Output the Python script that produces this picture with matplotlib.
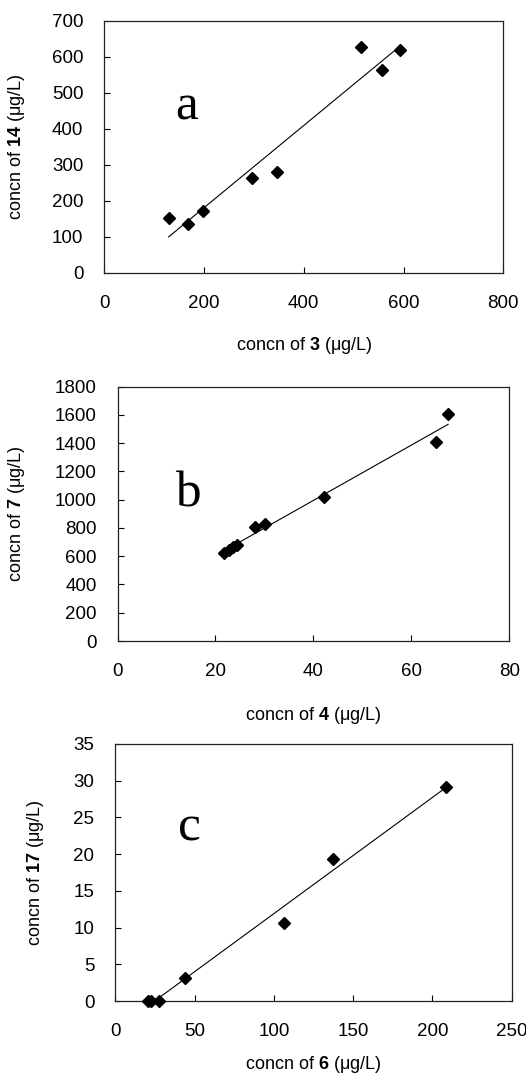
import numpy as np
import matplotlib
matplotlib.use("Agg")
import matplotlib.pyplot as plt

plt.rcParams['font.family'] = ['Liberation Sans', 'DejaVu Sans']
plt.rcParams['mathtext.fontset'] = 'custom'
plt.rcParams['mathtext.rm'] = 'Liberation Sans'
plt.rcParams['mathtext.bf'] = 'Liberation Sans:bold'

# Panel a: concn of 3 vs concn of 14
a_x = [129, 168, 197, 297, 346, 514, 556, 592]
a_y = [153, 135, 172, 263, 280, 627, 564, 620]
# Panel b: concn of 4 vs concn of 7
b_x = [21.8, 22.8, 23.6, 24.3, 28.0, 30.2, 42.2, 65.1, 67.5]
b_y = [622, 645, 662, 678, 808, 831, 1021, 1408, 1605]
# Panel c: concn of 6 vs concn of 17
c_x = [20.4, 22.5, 27.8, 44.2, 106.1, 137.3, 208.4]
c_y = [0, 0, 0, 3.1, 10.6, 19.4, 29.1]

panels = [
    dict(x=a_x, y=a_y, letter='a', xnum='3', ynum='14',
         xlim=(0, 800), xticks=[0, 200, 400, 600, 800],
         ylim=(0, 700), yticks=[0, 100, 200, 300, 400, 500, 600, 700],
         rect=[104.3, 20.7, 503.3, 272.7], letterpos=(0.207, 0.606),
         ylabx=27, xlaboff=62),
    dict(x=b_x, y=b_y, letter='b', xnum='4', ynum='7',
         xlim=(0, 80), xticks=[0, 20, 40, 60, 80],
         ylim=(0, 1800), yticks=list(range(0, 1801, 200)),
         rect=[117.5, 386.7, 509.3, 641.0], letterpos=(0.18, 0.528),
         ylabx=27, xlaboff=64),
    dict(x=c_x, y=c_y, letter='c', xnum='6', ynum='17',
         xlim=(0, 250), xticks=[0, 50, 100, 150, 200, 250],
         ylim=(0, 35), yticks=[0, 5, 10, 15, 20, 25, 30, 35],
         rect=[115.3, 744.0, 511.7, 1001.0], letterpos=(0.186, 0.626),
         ylabx=45.7, xlaboff=53),
]

W, H = 526, 1076
fig = plt.figure(figsize=(W / 100, H / 100), dpi=100)

for p in panels:
    l, t, r, b = p['rect']
    ax = fig.add_axes([l / W, 1 - b / H, (r - l) / W, (b - t) / H])
    x = np.array(p['x'], dtype=float)
    y = np.array(p['y'], dtype=float)
    m, c0 = np.polyfit(x, y, 1)
    xs = np.array([x.min(), x.max()])
    ax.plot(xs, m * xs + c0, color='black', lw=0.8, zorder=2)
    ax.plot(x, y, linestyle='none', marker='D', ms=6.5, color='black',
            zorder=3, clip_on=False)
    ax.set_xlim(*p['xlim'])
    ax.set_ylim(*p['ylim'])
    ax.set_xticks(p['xticks'])
    ax.set_yticks(p['yticks'])
    ax.tick_params(direction='in', length=4, width=0.8, labelsize=13.5,
                   colors='black')
    ax.tick_params(axis='y', pad=15)
    ax.tick_params(axis='x', pad=16)
    for s in ax.spines.values():
        s.set_linewidth(0.9)
        s.set_color('#222222')
    ax.set_xlabel(r'concn of $\mathbf{' + p['xnum'] + r'}$ (μg/L)', fontsize=13)
    ax.set_ylabel(r'concn of $\mathbf{' + p['ynum'] + r'}$ (μg/L)', fontsize=13)
    ax.xaxis.set_label_coords(0.5, -p['xlaboff'] / (b - t))
    ax.yaxis.set_label_coords((p['ylabx'] - l) / (r - l), 0.5)
    ax.text(p['letterpos'][0], p['letterpos'][1], p['letter'],
            transform=ax.transAxes, ha='center', va='baseline',
            fontsize=37, family=['Liberation Serif', 'DejaVu Serif'])

fig.savefig('out.png', dpi=100)
